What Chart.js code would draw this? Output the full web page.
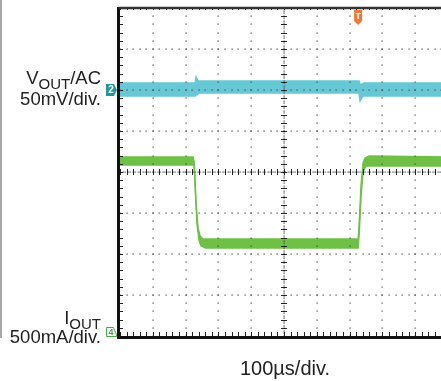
<!DOCTYPE html>
<html>
<head>
<meta charset="utf-8">
<script src="https://cdn.jsdelivr.net/npm/chart.js@4/dist/chart.umd.min.js"></script>
<style>
  html, body { margin: 0; padding: 0; background: #fff; overflow: hidden; }
  #wrap { width: 441px; height: 381px; overflow: hidden; position: relative; }
</style>
</head>
<body>
<div id="wrap"><canvas id="scope" width="460" height="381"></canvas></div>
<script>
// scope settings
const usPerDiv = 100;
const mvPerDiv = 50;
const maPerDiv = 500;
const vOffsetDiv = 2;    // channel 2 ground marker
const iOffsetDiv = -4;   // channel 4 ground marker
const triggerUs = 726;

// VOUT (AC) noise envelope, mV
const vTopUs = [0, 229, 232, 235, 238, 729, 732, 738, 744, 1000];
const vTopMv = [8.5, 8.5, 15.9, 13.4, 11, 11, 6.1, 7.3, 8.5, 8.5];
const vBotUs = [0, 229, 232, 235, 241, 726, 729, 732, 735, 741, 1000];
const vBotMv = [-7.3, -7.3, -1.2, -6.1, -3.7, -3.7, -4.9, -13.4, -11, -7.3, -7.3];

// IOUT envelope, mA
const iTopUs = [0, 223, 226, 232, 238, 244, 253, 726, 729, 735, 741, 747, 760, 1000];
const iTopMa = [2183, 2183, 2122, 1598, 1317, 1220, 1183, 1183, 1354, 1841, 2110, 2171, 2195, 2183];
const iBotUs = [0, 226, 229, 235, 241, 247, 262, 726, 729, 735, 741, 750, 1000];
const iBotMa = [2085, 2085, 1841, 1354, 1171, 1098, 1073, 1073, 1232, 1720, 2000, 2073, 2073];

const cyan = 'rgb(102,200,212)';
const green = 'rgb(110,192,70)';

function pts(ts, vals, toDiv) {
  return ts.map((t, i) => ({ x: t, y: toDiv(vals[i]) }));
}
const vDiv = (mv) => vOffsetDiv + mv / mvPerDiv;
const iDiv = (ma) => iOffsetDiv + ma / maPerDiv;

function band(label, data, color, fill) {
  return {
    label: label,
    data: data,
    borderColor: color,
    backgroundColor: color,
    borderWidth: 1.5,
    pointRadius: 0,
    tension: 0,
    fill: fill,
  };
}

// graticule drawn over the traces, like the scope does
const graticule = {
  id: 'graticule',
  afterDatasetsDraw(chart) {
    const { ctx, chartArea: a, scales } = chart;
    const xs = scales.x, ys = scales.y;
    const dot = (x, y) => ctx.fillRect(Math.round(x) - 0.5, Math.round(y) - 0.5, 1.2, 1.2);
    ctx.save();
    ctx.fillStyle = '#444';
    // major lines as dots on minor positions
    for (let t = usPerDiv; t < 1000; t += usPerDiv) {
      if (t === 500) continue;
      const x = xs.getPixelForValue(t);
      for (let d = -4; d <= 4.001; d += 0.2) dot(x, ys.getPixelForValue(d));
    }
    for (let d = -3; d <= 3; d++) {
      if (d === 0) continue;
      const y = ys.getPixelForValue(d);
      for (let t = 0; t <= 1000; t += 20) dot(xs.getPixelForValue(t), y);
    }
    // centre cross, dense dots and minor ticks
    const cx = xs.getPixelForValue(500), cy = ys.getPixelForValue(0);
    for (let y = a.top; y <= a.bottom; y += 2.5) dot(cx, y);
    for (let x = a.left; x <= a.right; x += 2.5) dot(x, cy);
    ctx.strokeStyle = '#222';
    ctx.lineWidth = 1;
    ctx.beginPath();
    for (let d = -4; d <= 4.001; d += 0.2) {
      const y = Math.round(ys.getPixelForValue(d)) + 0.5;
      ctx.moveTo(cx - 3, y); ctx.lineTo(cx + 3, y);
      ctx.moveTo(a.left, y); ctx.lineTo(a.left + 3, y);
    }
    for (let t = 0; t <= 1000; t += 20) {
      const x = Math.round(xs.getPixelForValue(t)) + 0.5;
      ctx.moveTo(x, cy - 3); ctx.lineTo(x, cy + 3);
      ctx.moveTo(x, a.bottom); ctx.lineTo(x, a.bottom - 4);
      ctx.moveTo(x, a.top); ctx.lineTo(x, a.top + 2);
    }
    ctx.stroke();
    // frame
    ctx.strokeStyle = '#111';
    ctx.lineWidth = 3;
    ctx.beginPath();
    ctx.moveTo(a.left - 1.5, a.top - 1);
    ctx.lineTo(a.left - 1.5, a.bottom + 1.5);
    ctx.lineTo(a.right + 5, a.bottom + 1.5);
    ctx.stroke();
    ctx.strokeStyle = '#333';
    ctx.lineWidth = 2.5;
    ctx.beginPath();
    ctx.moveTo(a.left - 1.5, a.top);
    ctx.lineTo(a.right + 5, a.top);
    ctx.stroke();
    ctx.restore();
  },
  afterDraw(chart) {
    const { ctx, chartArea: a, scales } = chart;
    const xs = scales.x, ys = scales.y;
    ctx.save();
    // left gray rule
    ctx.strokeStyle = '#8a8a8a';
    ctx.lineWidth = 1.5;
    ctx.beginPath();
    ctx.moveTo(1, 0); ctx.lineTo(1, a.bottom + 2);
    ctx.stroke();

    // channel labels
    ctx.fillStyle = '#222';
    ctx.textBaseline = 'alphabetic';
    const big = '18.5px "Liberation Sans", Arial, sans-serif';
    const sub = '15px "Liberation Sans", Arial, sans-serif';
    function subLabel(right, base, main, s, tail) {
      ctx.font = big; const w1 = ctx.measureText(main).width; const w3 = ctx.measureText(tail).width;
      ctx.font = sub; const w2 = ctx.measureText(s).width;
      let x = right - (w1 + w2 + w3);
      ctx.font = big; ctx.textAlign = 'left'; ctx.fillText(main, x, base); x += w1;
      ctx.font = sub; ctx.fillText(s, x, base + 5); x += w2;
      ctx.font = big; ctx.fillText(tail, x, base);
    }
    subLabel(101, 84, 'V', 'OUT', '/AC');
    ctx.font = big; ctx.textAlign = 'right';
    ctx.fillText('50mV/div.', 101, 105);
    subLabel(101, 324, 'I', 'OUT', '');
    ctx.font = big; ctx.textAlign = 'right';
    ctx.fillText('500mA/div.', 101, 343);
    ctx.font = '20px "Liberation Sans", Arial, sans-serif';
    ctx.textAlign = 'center';
    ctx.fillText('100\u00b5s/div.', 285, 375);

    // ch2 marker
    const y2 = ys.getPixelForValue(vOffsetDiv);
    ctx.fillStyle = 'rgb(38,150,150)';
    ctx.beginPath();
    ctx.moveTo(106, y2 - 6); ctx.lineTo(114, y2 - 6); ctx.lineTo(117, y2);
    ctx.lineTo(114, y2 + 6); ctx.lineTo(106, y2 + 6); ctx.closePath();
    ctx.fill();
    ctx.fillStyle = '#fff';
    ctx.font = 'bold 10px "Liberation Sans", Arial, sans-serif';
    ctx.textAlign = 'center'; ctx.textBaseline = 'middle';
    ctx.fillText('2', 111, y2 + 0.5);

    // ch4 marker (hollow)
    const y4 = ys.getPixelForValue(iOffsetDiv);
    ctx.strokeStyle = 'rgb(70,170,70)';
    ctx.lineWidth = 1;
    ctx.beginPath();
    ctx.moveTo(106.5, y4 - 8.5); ctx.lineTo(113.5, y4 - 8.5); ctx.lineTo(116.5, y4 - 1);
    ctx.lineTo(116.5, y4 + 0.5); ctx.lineTo(106.5, y4 + 0.5); ctx.closePath();
    ctx.stroke();
    ctx.fillStyle = 'rgb(70,170,70)';
    ctx.font = 'bold 9px "Liberation Sans", Arial, sans-serif';
    ctx.fillText('4', 111, y4 - 3.5);

    // trigger marker
    const xt = xs.getPixelForValue(triggerUs);
    ctx.fillStyle = 'rgb(240,120,50)';
    ctx.beginPath();
    ctx.moveTo(xt - 4, a.top + 2);
    ctx.lineTo(xt + 4, a.top + 2);
    ctx.lineTo(xt + 4, a.top + 13);
    ctx.lineTo(xt, a.top + 17);
    ctx.lineTo(xt - 4, a.top + 13);
    ctx.closePath();
    ctx.fill();
    ctx.fillStyle = '#fff';
    ctx.font = 'bold 9px "Liberation Sans", Arial, sans-serif';
    ctx.fillText('T', xt, a.top + 8.5);
    ctx.restore();
  },
};

new Chart(document.getElementById('scope'), {
  type: 'line',
  data: {
    datasets: [
      band('VOUT top', pts(vTopUs, vTopMv, vDiv), cyan, false),
      band('VOUT bottom', pts(vBotUs, vBotMv, vDiv), cyan, '-1'),
      band('IOUT top', pts(iTopUs, iTopMa, iDiv), green, false),
      band('IOUT bottom', pts(iBotUs, iBotMa, iDiv), green, '-1'),
    ],
  },
  options: {
    responsive: false,
    animation: false,
    devicePixelRatio: 1,
    layout: { padding: { left: 120, right: 12, top: 8, bottom: 45 } },
    plugins: { legend: { display: false }, tooltip: { enabled: false } },
    scales: {
      x: { type: 'linear', min: 0, max: 1000, display: false },
      y: { type: 'linear', min: -4, max: 4, display: false },
    },
  },
  plugins: [graticule],
});
</script>
</body>
</html>
